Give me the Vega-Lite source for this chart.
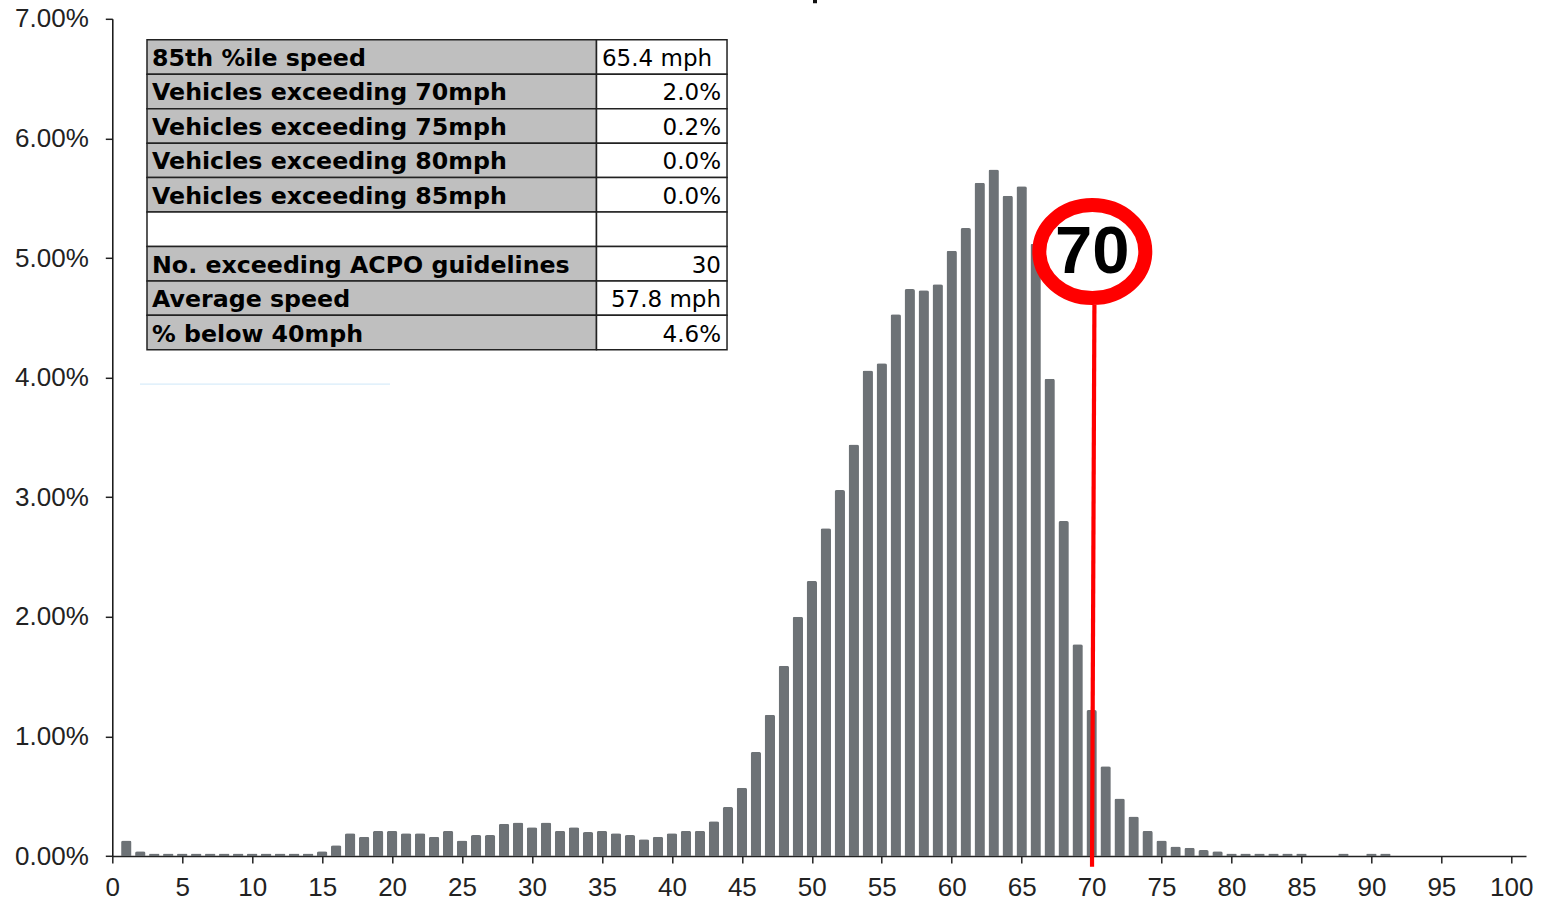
{
"$schema":"https://vega.github.io/schema/vega-lite/v6.json",
"autosize":{"type":"none"},
"width":1413.7,"height":837.2,
"padding":{"left":112.3,"top":18.8,"right":26,"bottom":46},
"background":"white",
"config":{"view":{"stroke":null},"axis":{"grid":false}},
"layer":[
{"layer":[
{"data":{"values":[
{"s":1,"p":0.13},{"s":2,"p":0.04},{"s":3,"p":0.02},{"s":4,"p":0.02},{"s":5,"p":0.02},{"s":6,"p":0.02},{"s":7,"p":0.02},{"s":8,"p":0.02},{"s":9,"p":0.02},{"s":10,"p":0.02},{"s":11,"p":0.02},{"s":12,"p":0.02},{"s":13,"p":0.02},{"s":14,"p":0.02},{"s":15,"p":0.04},{"s":16,"p":0.09},{"s":17,"p":0.19},{"s":18,"p":0.16},{"s":19,"p":0.21},{"s":20,"p":0.21},{"s":21,"p":0.19},{"s":22,"p":0.19},{"s":23,"p":0.16},{"s":24,"p":0.21},{"s":25,"p":0.13},{"s":26,"p":0.175},{"s":27,"p":0.175},{"s":28,"p":0.27},{"s":29,"p":0.28},{"s":30,"p":0.24},{"s":31,"p":0.28},{"s":32,"p":0.21},{"s":33,"p":0.24},{"s":34,"p":0.2},{"s":35,"p":0.21},{"s":36,"p":0.19},{"s":37,"p":0.175},{"s":38,"p":0.14},{"s":39,"p":0.16},{"s":40,"p":0.19},{"s":41,"p":0.21},{"s":42,"p":0.21},{"s":43,"p":0.29},{"s":44,"p":0.41},{"s":45,"p":0.57},{"s":46,"p":0.87},{"s":47,"p":1.18},{"s":48,"p":1.59},{"s":49,"p":2.0},{"s":50,"p":2.3},{"s":51,"p":2.74},{"s":52,"p":3.06},{"s":53,"p":3.44},{"s":54,"p":4.06},{"s":55,"p":4.12},{"s":56,"p":4.53},{"s":57,"p":4.74},{"s":58,"p":4.73},{"s":59,"p":4.78},{"s":60,"p":5.06},{"s":61,"p":5.25},{"s":62,"p":5.63},{"s":63,"p":5.74},{"s":64,"p":5.52},{"s":65,"p":5.6},{"s":66,"p":5.12},{"s":67,"p":3.99},{"s":68,"p":2.8},{"s":69,"p":1.77},{"s":70,"p":1.22},{"s":71,"p":0.75},{"s":72,"p":0.48},{"s":73,"p":0.33},{"s":74,"p":0.21},{"s":75,"p":0.13},{"s":76,"p":0.08},{"s":77,"p":0.07},{"s":78,"p":0.05},{"s":79,"p":0.04},{"s":80,"p":0.02},{"s":81,"p":0.02},{"s":82,"p":0.02},{"s":83,"p":0.02},{"s":84,"p":0.02},{"s":85,"p":0.02},{"s":88,"p":0.02},{"s":90,"p":0.02},{"s":91,"p":0.02}
]},
"mark":{"type":"bar","width":10.4,"color":"#6d7276","cornerRadiusTopLeft":2,"cornerRadiusTopRight":2},
"encoding":{
"x":{"field":"s","type":"quantitative","title":null,"scale":{"domain":[0,101.05],"nice":false,"zero":false,"padding":0},
"axis":{"values":[0,5,10,15,20,25,30,35,40,45,50,55,60,65,70,75,80,85,90,95,100],"labelFont":"Liberation Sans","labelFontSize":26,"labelColor":"#222222","labelPadding":11,"labelFlush":false,"labelOverlap":false,"domainColor":"#222222","domainWidth":1.5,"tickColor":"#222222","tickWidth":1.5,"tickSize":7,"grid":false}},
"y":{"field":"p","type":"quantitative","title":null,"scale":{"domain":[0,7],"nice":false,"padding":0},
"axis":{"values":[0,1,2,3,4,5,6,7],"labelExpr":"format(datum.value,'.2f')+'%'","labelFont":"Liberation Sans","labelFontSize":26,"labelColor":"#222222","labelPadding":17,"labelOverlap":false,"domainColor":"#111111","domainWidth":1.5,"tickColor":"#222222","tickWidth":1.5,"tickSize":7,"grid":false}}
}},
{"data":{"values":[{"s":1.98,"p":3.946},{"s":19.85,"p":3.946}]},
"mark":{"type":"line","color":"#d8ecfa","strokeWidth":1.2,"clip":false},
"encoding":{"x":{"field":"s","type":"quantitative"},"y":{"field":"p","type":"quantitative"}}},
{"data":{"values":[{"s":50.23,"p":7.13},{"s":50.23,"p":7.16}]},
"mark":{"type":"line","color":"#111111","strokeWidth":4,"clip":false},
"encoding":{"x":{"field":"s","type":"quantitative"},"y":{"field":"p","type":"quantitative"}}},
{"data":{"values":[{"s":70.2,"p":4.61},{"s":70.03,"p":-0.09}]},
"mark":{"type":"line","color":"#ff0000","strokeWidth":4.2,"clip":false},
"encoding":{"x":{"field":"s","type":"quantitative"},"y":{"field":"p","type":"quantitative"}}},
{"data":{"values":[{"s":70.05,"p":5.054,"t":"70"}]},
"layer":[
{"mark":{"type":"point","shape":"M-1,0 A1,0.877 0 1,1 1,0 A1,0.877 0 1,1 -1,0 Z","size":11236,"filled":true,"fill":"white","stroke":"#ff0000","strokeWidth":14,"opacity":1},
"encoding":{"x":{"field":"s","type":"quantitative"},"y":{"field":"p","type":"quantitative"}}},
{"mark":{"type":"text","font":"Liberation Sans","fontWeight":"bold","fontSize":67,"color":"black","baseline":"middle","align":"center","dy":1},
"encoding":{"x":{"field":"s","type":"quantitative"},"y":{"field":"p","type":"quantitative"},"text":{"field":"t"}}}
]}
]},
{"data":{"values":[
{"r":1,"label":"85th %ile speed","value":"65.4 mph"},
{"r":2,"label":"Vehicles exceeding 70mph","value":"2.0%"},
{"r":3,"label":"Vehicles exceeding 75mph","value":"0.2%"},
{"r":4,"label":"Vehicles exceeding 80mph","value":"0.0%"},
{"r":5,"label":"Vehicles exceeding 85mph","value":"0.0%"},
{"r":6,"label":"","value":""},
{"r":7,"label":"No. exceeding ACPO guidelines","value":"30"},
{"r":8,"label":"Average speed","value":"57.8 mph"},
{"r":9,"label":"% below 40mph","value":"4.6%"}
]},
"encoding":{"y":{"field":"r","type":"ordinal","title":null,"axis":null,"scale":{"domain":[1,2,3,4,5,6,7,8,9],"range":[21,331],"paddingInner":0,"paddingOuter":0}}},
"layer":[
{"mark":{"type":"rect","stroke":"#222222","strokeWidth":1.5},
"encoding":{"x":{"datum":2.48},"x2":{"datum":34.61},"fill":{"condition":{"test":"datum.label===''","value":"white"},"value":"#bfbfbf"}}},
{"mark":{"type":"rect","stroke":"#222222","strokeWidth":1.5,"fill":"white"},
"encoding":{"x":{"datum":34.61},"x2":{"datum":43.94}}},
{"mark":{"type":"text","font":"DejaVu Sans","fontWeight":"bold","fontSize":23.7,"color":"black","align":"left","baseline":"middle","dy":2},
"encoding":{"x":{"datum":2.84},"text":{"field":"label"}}},
{"transform":[{"filter":"datum.r>1"}],"mark":{"type":"text","font":"DejaVu Sans","fontSize":23,"color":"black","align":"right","baseline":"middle","dy":2},
"encoding":{"x":{"datum":43.51},"text":{"field":"value"}}},
{"transform":[{"filter":"datum.r==1"}],"mark":{"type":"text","font":"DejaVu Sans","fontSize":23,"color":"black","align":"left","baseline":"middle","dy":2},
"encoding":{"x":{"datum":35.0},"text":{"field":"value"}}}
]}
],
"resolve":{"scale":{"y":"independent"}}
}
